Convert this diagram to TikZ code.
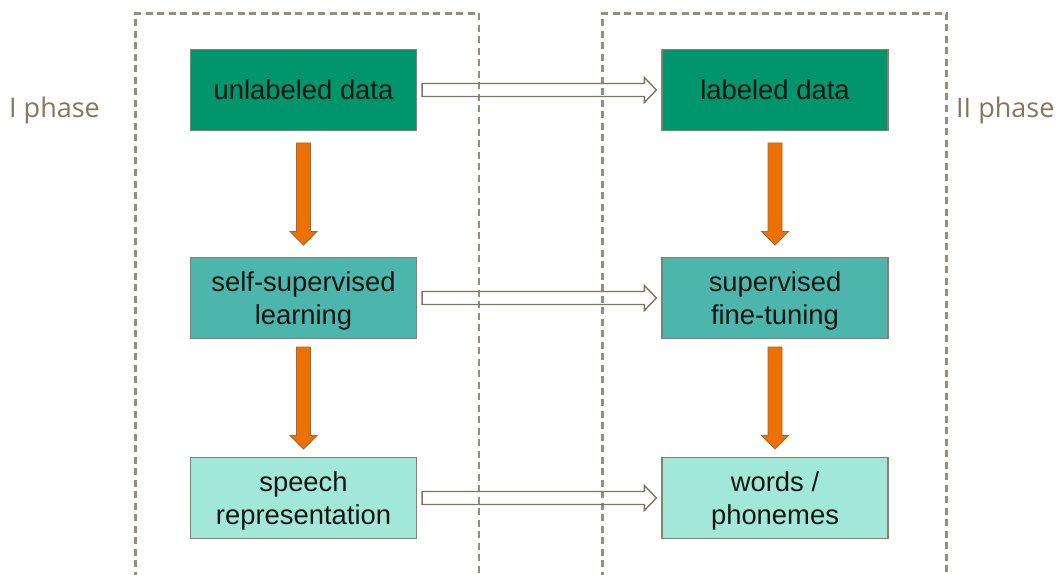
\documentclass[tikz,border=0pt]{standalone}
\usepackage{fontspec}
\setmainfont{Liberation Sans}
\newfontfamily\phasefont{Open Sans}
\usetikzlibrary{calc}

\definecolor{datagreen}{HTML}{00956A}
\definecolor{learnteal}{HTML}{4DB6AC}
\definecolor{outaqua}{HTML}{A2E8D9}
\definecolor{boxedge}{HTML}{8A7F6E}
\definecolor{flowfill}{HTML}{EE7000}
\definecolor{flowedge}{HTML}{9A6A40}
\definecolor{passedge}{HTML}{7E7463}
\definecolor{frameline}{HTML}{938E84}
\definecolor{phasetext}{HTML}{857659}
\definecolor{boxtext}{HTML}{151515}

\begin{document}
\begin{tikzpicture}[x=1pt,y=-1pt,
  stage/.style={draw=boxedge, line width=1.3pt, minimum width=226pt,
    minimum height=81pt, inner sep=0pt, align=center, text=boxtext,
    text depth=0pt, font=\fontsize{27.4}{32.5}\selectfont},
  phase/.style={inner sep=0pt, text=phasetext,
    font=\phasefont\fontsize{27}{32}\selectfont},
  frame/.style={draw=frameline, line width=2.1pt, dash pattern=on 7pt off 4.5pt},
  % thick orange block arrow, centred in the gap between two stacked boxes
  flowdown/.style={fill=flowfill, draw=flowedge, line width=0.9pt, line join=miter,
    to path={let \p1=(\tikztostart), \p2=(\tikztotarget) in
      ({\x1-7pt}, {(\y1+\y2)/2+51pt}) -- ({\x1+7pt}, {(\y1+\y2)/2+51pt})
      -- ({\x1+7pt}, {(\y1+\y2)/2-37.5pt}) -- ({\x1+13.5pt}, {(\y1+\y2)/2-37.5pt})
      -- (\x1, {(\y1+\y2)/2-51pt}) -- ({\x1-13.5pt}, {(\y1+\y2)/2-37.5pt})
      -- ({\x1-7pt}, {(\y1+\y2)/2-37.5pt}) -- cycle}},
  % hollow block arrow from one phase to the next
  passover/.style={draw=passedge, line width=1.4pt, line join=miter,
    to path={let \p1=(\tikztostart), \p2=(\tikztotarget) in
      ({\x1+5pt}, {\y1+6.5pt}) -- ({\x2-17pt}, {\y1+6.5pt})
      -- ({\x2-17pt}, {\y1+12.5pt}) -- ({\x2-5pt}, \y1)
      -- ({\x2-17pt}, {\y1-12.5pt}) -- ({\x2-17pt}, {\y1-6.5pt})
      -- ({\x1+5pt}, {\y1-6.5pt}) -- cycle}}]

\useasboundingbox (0,0) rectangle (1060,575);
\clip (0,0) rectangle (1060,575);

% phase frames, open at the bottom
\draw[frame] (135.5,590) -- (135.5,13.5) -- (479,13.5) -- (479,590);
\draw[frame] (602.5,590) -- (602.5,13.5) -- (946.5,13.5) -- (946.5,590);

% phase labels
\node[phase, anchor=base west] (phaseone) at (9,118) {I phase};
\node[phase, anchor=base west] (phasetwo) at (956,118) {II phase};

% first phase
\node[stage, fill=datagreen] (unlab) at (303.5,90) {unlabeled data};
\node[stage, fill=learnteal] (ssl) at (303.5,298) {self-supervised\\learning};
\node[stage, fill=outaqua] (rep) at (303.5,498) {speech\\representation};

% second phase
\node[stage, fill=datagreen] (lab) at (775,90) {labeled data};
\node[stage, fill=learnteal] (ft) at (775,298) {supervised\\fine-tuning};
\node[stage, fill=outaqua] (words) at (775,498) {words /\\phonemes};

% flow within each phase
\path[flowdown] (unlab.south) to (ssl.north);
\path[flowdown] (ssl.south) to (rep.north);
\path[flowdown] (lab.south) to (ft.north);
\path[flowdown] (ft.south) to (words.north);

% correspondence between the phases
\path[passover] (unlab.east) to (lab.west);
\path[passover] (ssl.east) to (ft.west);
\path[passover] (rep.east) to (words.west);
\end{tikzpicture}
\end{document}
